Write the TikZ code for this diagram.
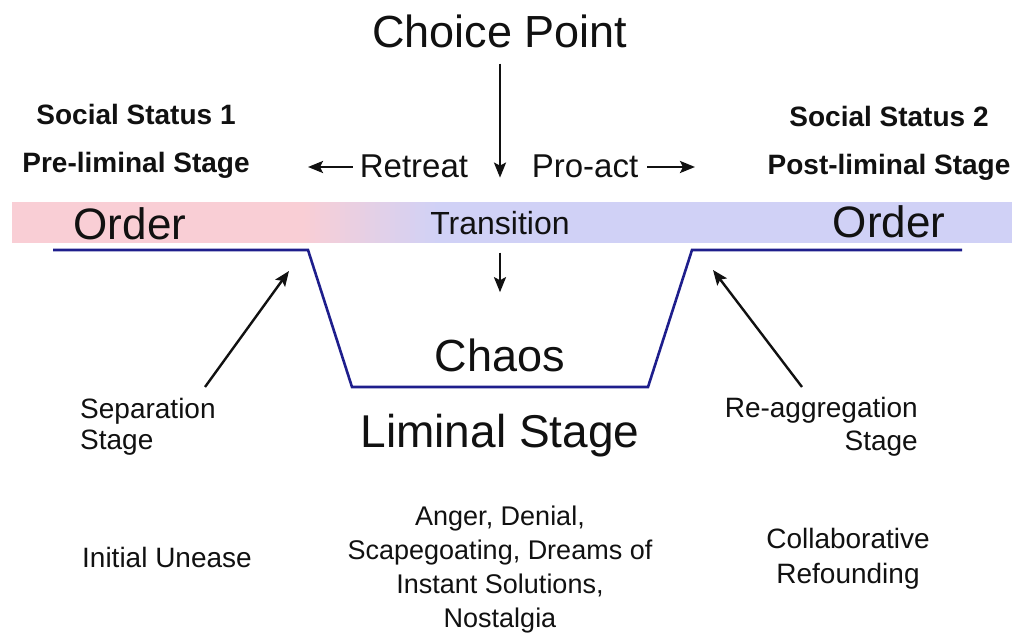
\documentclass[tikz,border=0pt]{standalone}
\usepackage{fontspec}
\setmainfont{Liberation Sans}
\definecolor{OrderPink}{RGB}{249, 206, 213}
\definecolor{OrderLilac}{RGB}{208, 209, 246}
\definecolor{TrackBlue}{RGB}{30, 30, 140}
\definecolor{InkBlack}{RGB}{17, 17, 17}
\usetikzlibrary{arrows.meta, positioning}

\begin{document}
\begin{tikzpicture}[x=1pt, y=-1pt, >={Stealth[length=15pt, width=12pt, inset=3pt]},
    every node/.style={inner sep=0pt, text=InkBlack},
    title/.style={anchor=base, font=\fontsize{45}{50}\selectfont},
    phase/.style={anchor=base, font=\fontsize{44}{48}\selectfont},
    move/.style={anchor=base, font=\fontsize{33}{38}\selectfont},
    status/.style={anchor=base, font=\bfseries\fontsize{28}{32}\selectfont},
    note/.style={anchor=north, font=\fontsize{28}{35}\selectfont},
    pointer/.style={->, line width=2.4pt, draw=InkBlack},
    track/.style={draw=TrackBlue, line width=2.6pt, line join=miter}]
    \useasboundingbox (0,0) rectangle (1018,636);
    \fill[white] (0,0) rectangle (1018,636);

    % the band, pink fading into lilac
    \fill[OrderPink] (12,202) rectangle (300.5,243);
    \foreach \i in {0,...,27} {
        \pgfmathtruncatemacro{\mix}{100*\i/27}
        \fill[OrderLilac!\mix!OrderPink] (300+5*\i,202) rectangle (305.6+5*\i,243);
    }
    \fill[OrderLilac] (439.5,202) rectangle (1012,243);

    % the dip into chaos
    \coordinate (tl) at (308,250);
    \coordinate (bl) at (352,387);
    \coordinate (br) at (648,387);
    \coordinate (tr) at (692,250);
    \draw[track] (53,250) -- (tl) -- (bl) -- (br) -- (tr) -- (962,250);

    \node[title] (cp) at (500,48) {Choice Point};
    \node[status] (ss1) at (136,125) {Social Status 1};
    \node[status, below=27pt of ss1] (pre) {Pre-liminal Stage};
    \node[status] (ss2) at (889,127) {Social Status 2};
    \node[status, below=27pt of ss2] (post) {Post-liminal Stage};
    \node[move] (retreat) at (414,178) {Retreat};
    \node[move] (proact) at (585,178) {Pro-act};

    \node[phase] (orderl) at (130,240) {Order};
    \node[phase] (orderr) at (889,238) {Order};
    \node[move, font=\fontsize{32}{38}\selectfont] (trans) at (500,235) {Transition};
    \node[title] (chaos) at (500,372) {Chaos};
    \node[title, font=\fontsize{46}{50}\selectfont, below=41pt of chaos] (liminal) {Liminal Stage};

    \node[note, anchor=north west, align=left, font=\fontsize{28}{31}\selectfont] (sep) at (80,398) {Separation\\Stage};
    \node[note, anchor=north east, align=right, font=\fontsize{28}{33}\selectfont] (reagg) at (918,397) {Re-aggregation\\Stage};
    \node[note, anchor=base] (unease) at (167,567) {Initial Unease};
    \node[note, align=center, font=\fontsize{27}{34}\selectfont] (grief) at (500,506) {Anger, Denial,\\Scapegoating, Dreams of\\Instant Solutions,\\Nostalgia};
    \node[note, align=center] (refound) at (848,528) {Collaborative\\Refounding};

    \coordinate (rtip) at (308,167);
    \coordinate (ptip) at (695,167);
    \coordinate (sepfoot) at (205,387);
    \coordinate (sephead) at (289,271);
    \coordinate (reafoot) at (802,387);
    \coordinate (reahead) at (713,270);

    \draw[pointer, shorten <=15pt, shorten >=34pt] (cp) -- (trans);
    \draw[pointer, shorten <=7pt] (retreat.west |- rtip) -- (rtip);
    \draw[pointer, shorten <=9pt] (proact.east |- ptip) -- (ptip);
    \draw[pointer, shorten <=17pt, shorten >=47pt] (trans) -- (chaos);
    \draw[pointer] (sepfoot) -- (sephead);
    \draw[pointer] (reafoot) -- (reahead);
\end{tikzpicture}
\end{document}
